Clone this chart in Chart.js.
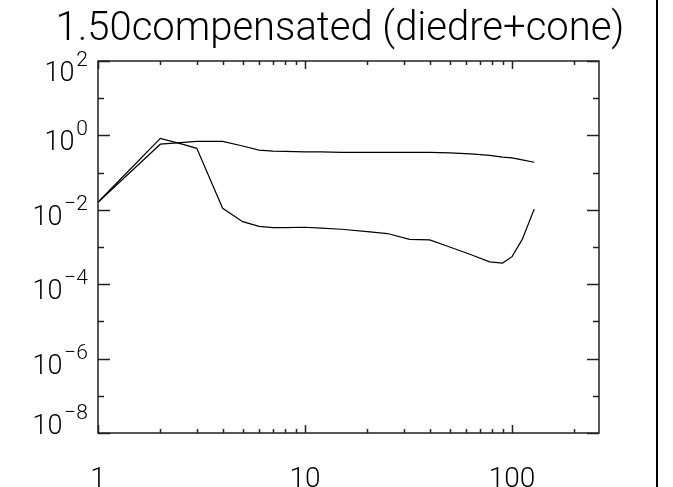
<!DOCTYPE html>
<html>
<head>
<meta charset="utf-8">
<script src="https://cdn.jsdelivr.net/npm/chart.js@4"></script>
<style>
  body { margin: 0; background: #fff; }
  #wrap { position: relative; width: 656px; height: 487px; border-right: 2px solid #000; }
</style>
</head>
<body>
<div id="wrap"><canvas id="c"></canvas></div>
<script>
// shared x values (both curves sampled at the same points)
const xValues = [1, 2, 2.5, 3, 4, 5, 6, 7, 8, 10, 12, 15, 20, 25, 32, 40, 50, 63, 78, 90, 100, 112, 128];
// upper curve
const curveUpper = [0.016, 0.58, 0.64, 0.69, 0.69, 0.52, 0.40, 0.38, 0.37, 0.36, 0.36, 0.35, 0.35, 0.35, 0.35, 0.35, 0.34, 0.32, 0.29, 0.26, 0.25, 0.22, 0.19];
// lower curve
const curveLower = [0.016, 0.83, 0.60, 0.45, 0.011, 0.0048, 0.0036, 0.0033, 0.0033, 0.0034, 0.0032, 0.0030, 0.0026, 0.0023, 0.0016, 0.00155, 0.0010, 0.00063, 0.00040, 0.00037, 0.00055, 0.0016, 0.0105];

const titleText = "1.50compensated (diedre+cone)";
const xTickValues = [1, 2, 3, 4, 5, 6, 7, 8, 9, 10, 20, 30, 40, 50, 60, 70, 80, 90, 100, 200];
const xTickLabels = ["1", "", "", "", "", "", "", "", "", "10", "", "", "", "", "", "", "", "", "100", ""];
const yTickValues = [1e-8, 1e-7, 1e-6, 1e-5, 1e-4, 1e-3, 1e-2, 1e-1, 1e0, 1e1, 1e2];
const yTickExps = ["\u22128", "", "\u22126", "", "\u22124", "", "\u22122", "", "0", "", "2"];

const FONT = "Roboto";

function toPoints(ys) {
  return xValues.map((x, i) => ({ x: x, y: ys[i] }));
}

// inward ticks on all four sides + y labels as 10^n
const idlAxes = {
  id: "idlAxes",
  afterDraw(chart) {
    const ctx = chart.ctx;
    const a = chart.chartArea;
    const xs = chart.scales.x, ys = chart.scales.y;
    ctx.save();
    ctx.strokeStyle = "#222";
    ctx.lineWidth = 1.5;
    ctx.strokeRect(a.left, a.top, a.right - a.left, a.bottom - a.top);

    xTickValues.forEach((v, i) => {
      const px = Math.round(xs.getPixelForValue(v)) + 0.5;
      const len = xTickLabels[i] ? 8 : 4;
      ctx.beginPath();
      ctx.moveTo(px, a.bottom); ctx.lineTo(px, a.bottom - len);
      ctx.moveTo(px, a.top); ctx.lineTo(px, a.top + len);
      ctx.stroke();
    });

    const last = yTickValues.length - 1;
    yTickValues.forEach((v, i) => {
      const py = Math.round(ys.getPixelForValue(v)) + 0.5;
      const len = yTickExps[i] ? 12 : 6;
      ctx.beginPath();
      ctx.moveTo(a.left, py); ctx.lineTo(a.left + len, py);
      ctx.moveTo(a.right, py); ctx.lineTo(a.right - len, py);
      ctx.stroke();

      if (!yTickExps[i]) return;
      const exp = yTickExps[i];
      // end labels are nudged inside the axis, like the original
      let base = py;
      if (i === 0) base = py - 14;
      if (i === last) base = py + 5;
      ctx.fillStyle = "#000";
      ctx.textBaseline = "alphabetic";
      ctx.textAlign = "left";
      ctx.font = "300 21px " + FONT;
      const ew = ctx.measureText(exp).width;
      ctx.font = "300 27px " + FONT;
      const bw = ctx.measureText("10").width;
      const right = a.left - 10;
      ctx.fillText("10", right - ew - bw - 2, base + 14);
      ctx.font = "300 21px " + FONT;
      ctx.fillText(exp, right - ew, base - 1);
    });
    ctx.restore();
  }
};

const ctx = document.getElementById("c").getContext("2d");

const config = {
  type: "scatter",
  data: {
    datasets: [
      {
        label: "upper",
        data: toPoints(curveUpper),
        showLine: true,
        borderColor: "#000",
        borderWidth: 1.2,
        pointRadius: 0,
        tension: 0,
      },
      {
        label: "lower",
        data: toPoints(curveLower),
        showLine: true,
        borderColor: "#000",
        borderWidth: 1.2,
        pointRadius: 0,
        tension: 0,
      },
    ],
  },
  options: {
    responsive: true,
    maintainAspectRatio: false,
    animation: false,
    layout: { padding: { left: 24, right: 0, top: 0, bottom: 0 } },
    scales: {
      x: {
        type: "logarithmic",
        min: 1,
        max: 263,
        grid: { display: false },
        border: { display: false },
        afterBuildTicks: (scale) => {
          scale.ticks = xTickValues.map((v) => ({ value: v }));
        },
        afterFit: (scale) => { scale.height = 54; },
        ticks: {
          autoSkip: false,
          maxRotation: 0,
          padding: 22,
          color: "#000",
          font: { family: FONT, size: 28, weight: 300 },
          callback: function (value, index) {
            return xTickLabels[index];
          },
        },
      },
      y: {
        type: "logarithmic",
        min: 1e-8,
        max: 1e2,
        grid: { display: false },
        border: { display: false },
        ticks: { display: false },
        afterBuildTicks: (scale) => {
          scale.ticks = yTickValues.map((v) => ({ value: v }));
        },
        afterFit: (scale) => { scale.width = 74; },
      },
      y2: {
        type: "linear",
        position: "right",
        grid: { display: false },
        border: { display: false },
        ticks: { display: false },
        afterFit: (scale) => { scale.width = 57; },
      },
    },
    plugins: {
      legend: { display: false },
      tooltip: { enabled: false },
      title: {
        display: true,
        text: titleText,
        color: "#000",
        align: "center",
        font: { family: FONT, size: 40, weight: 300, lineHeight: 1.2 },
        padding: { top: 6, bottom: 7 },
      },
    },
  },
  plugins: [idlAxes],
};

const chart = new Chart(ctx, config);
</script>
</body>
</html>
